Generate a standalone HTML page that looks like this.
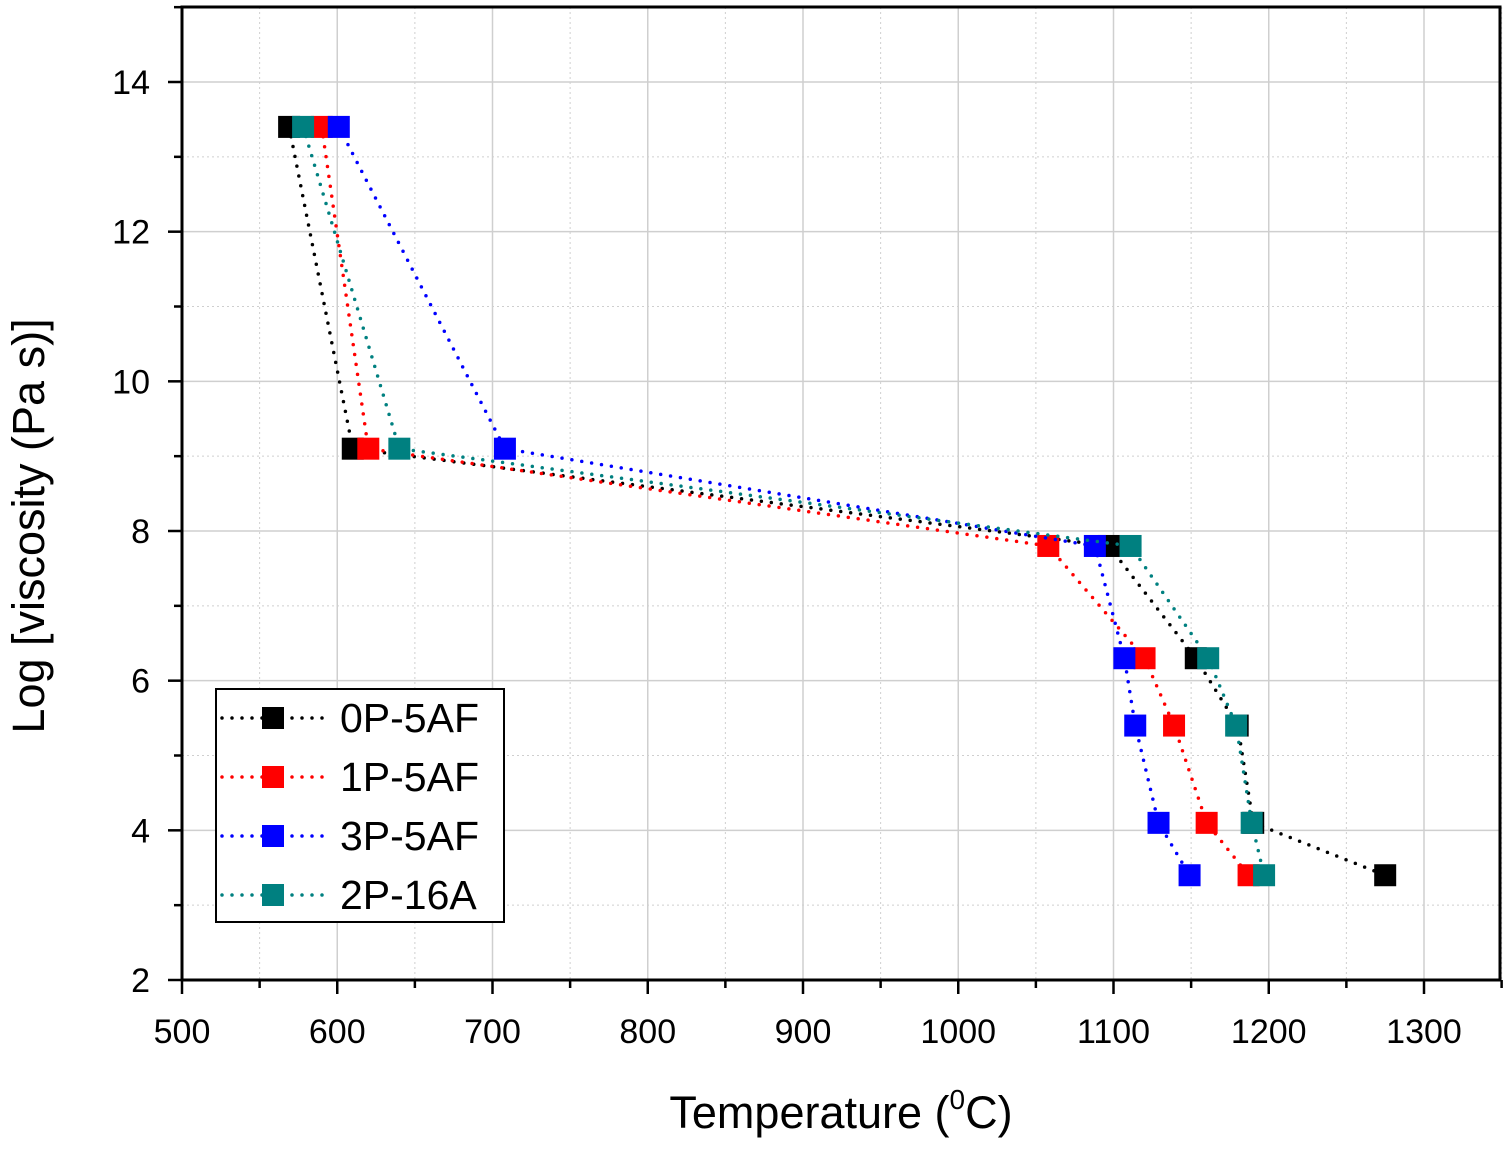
<!DOCTYPE html>
<html><head><meta charset="utf-8"><style>
body{margin:0;background:#fff}
svg text{font-family:"Liberation Sans",Arial,sans-serif;fill:#000}
</style></head><body>
<svg id="chart" width="1508" height="1146" viewBox="0 0 1508 1146" xmlns="http://www.w3.org/2000/svg">
<g id="grid"></g>
<g id="axes"></g>
<g id="series"></g>
<g id="legend"></g>
<text x="841" y="1128" font-size="45" text-anchor="middle">Temperature (<tspan font-size="28" dy="-19">0</tspan><tspan dy="19">C)</tspan></text>
<text transform="translate(44,526) rotate(-90)" font-size="45" text-anchor="middle">Log [viscosity (Pa s)]</text>
</svg>
<script>
const seriesNames=["0P-5AF","1P-5AF","3P-5AF","2P-16A"];
const seriesColors=["#000000","#ff0000","#0000ff","#008080"];
const yVals=[13.4,9.1,7.8,6.3,5.4,4.1,3.4];
const xBlack=[569,610,1097,1153,1180,1190,1275];
const xRed=[590,620,1058,1120,1139,1160,1187];
const xBlue=[601,708,1088,1107,1114,1129,1149];
const xTeal=[578,640,1111,1161,1179,1189,1197];
const xTicks=[500,600,700,800,900,1000,1100,1200,1300];
const yTicks=[2,4,6,8,10,12,14];
const NS="http://www.w3.org/2000/svg";
const L=182,R=1500,T=7,B=980;
function sx(v){return 182+(v-500)*1.5525;}
function sy(v){return 980-(v-2)*74.833;}
function el(tag,attrs,parent){const e=document.createElementNS(NS,tag);for(const k in attrs)e.setAttribute(k,attrs[k]);parent.appendChild(e);return e;}
const grid=document.getElementById('grid'),axes=document.getElementById('axes'),ser=document.getElementById('series'),leg=document.getElementById('legend');
for(let v=550;v<=1350;v+=50){const major=v%100===0;const g=el('line',{x1:sx(v),x2:sx(v),y1:T,y2:B,stroke:'#cfcfcf','stroke-width':major?1.5:1,'stroke-dasharray':major?'':'2,3'},grid);

}
for(let v=3;v<=15;v+=1){const major=v%2===0;const g=el('line',{x1:L,x2:R,y1:sy(v),y2:sy(v),stroke:'#cfcfcf','stroke-width':major?1.5:1,'stroke-dasharray':major?'':'2,3'},grid);

}
const frame=el('rect',{x:L,y:T,width:R-L,height:B-T,fill:'none',stroke:'#000','stroke-width':3},axes);


for(let v=500;v<=1350;v+=50){const major=v%100===0;el('line',{x1:sx(v),x2:sx(v),y1:B,y2:B+(major?14:8),stroke:'#000','stroke-width':2.5},axes);}
for(let v=2;v<=15;v+=1){const major=v%2===0;el('line',{x1:L,x2:L-(major?14:8),y1:sy(v),y2:sy(v),stroke:'#000','stroke-width':2.5},axes);}
xTicks.forEach(v=>{const t=el('text',{x:sx(v),y:1043,'font-size':34,'text-anchor':'middle'},axes);t.textContent=v;

});
yTicks.forEach(v=>{const t=el('text',{x:150,y:sy(v)+12,'font-size':34,'text-anchor':'end'},axes);t.textContent=v;

});
const xs=[xBlack,xRed,xBlue,xTeal];
xs.forEach((arr,i)=>{const c=seriesColors[i];
const pts=arr.map((x,j)=>sx(x)+','+sy(yVals[j])).join(' ');
const pl=el('polyline',{points:pts,fill:'none',stroke:c,'stroke-width':3.5,'stroke-dasharray':'0,10','stroke-linecap':'round'},ser);


arr.forEach((x,j)=>{const r=el('rect',{x:sx(x)-11,y:sy(yVals[j])-11,width:22,height:22,fill:c},ser);

});});
const box=el('rect',{x:216,y:689,width:288,height:233,fill:'#fff',stroke:'#000','stroke-width':2},leg);


seriesNames.forEach((n,i)=>{const y=718+i*59;const g=el('g',{},leg);


el('line',{x1:222,x2:330,y1:y,y2:y,stroke:seriesColors[i],'stroke-width':3.5,'stroke-dasharray':'0,10','stroke-linecap':'round'},g);
el('rect',{x:262,y:y-11,width:22,height:22,fill:seriesColors[i]},g);
const t=el('text',{x:340,y:y+14,'font-size':41},g);t.textContent=n;});
</script>
</body></html>
